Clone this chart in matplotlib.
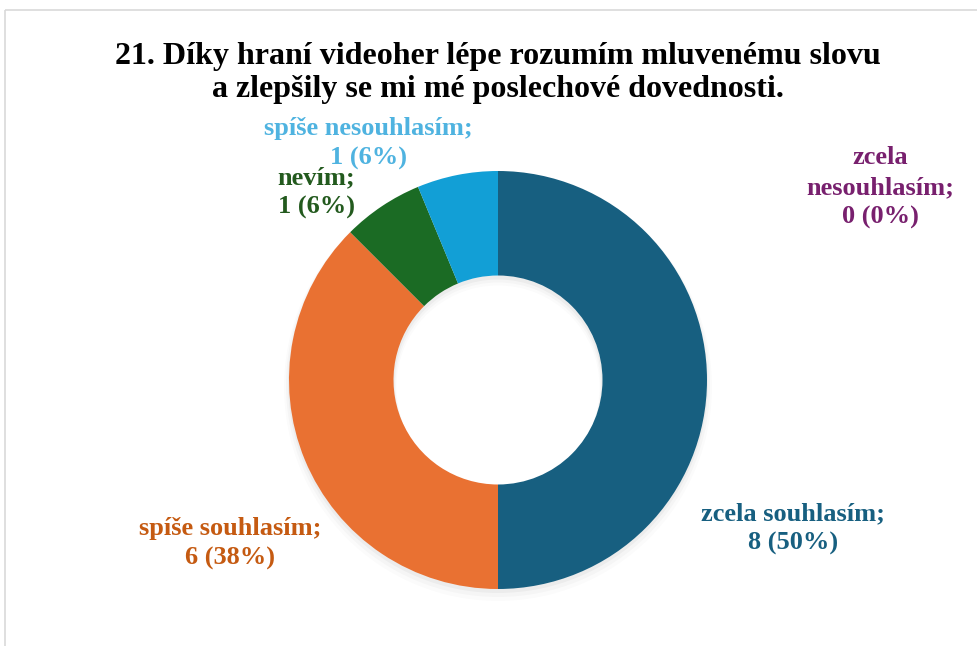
import matplotlib
matplotlib.use("Agg")
import matplotlib.pyplot as plt
from matplotlib.patches import Rectangle

plt.rcParams["font.family"] = ["Liberation Serif", "DejaVu Serif"]

TITLE = "21. Díky hraní videoher lépe rozumím mluvenému slovu\na zlepšily se mi mé poslechové dovednosti."
CATEGORIES = ["zcela souhlasím", "spíše souhlasím", "nevím", "spíše nesouhlasím", "zcela nesouhlasím"]
COUNTS = [8, 6, 1, 1, 0]
PERCENTS = [50, 38, 6, 6, 0]
WEDGE_COLORS = ["#175f80", "#e97132", "#1b6b24", "#129fd6", "#7a1f6e"]
TEXT_COLORS = ["#175f80", "#c55a11", "#235a1e", "#4fb3e0", "#78206e"]

# label layout (pixel coords of the 977x646 canvas): centre x, first line y, text lines
LABEL_POS = [
    (793, 514, ["{c};", "{n} ({p}%)"]),
    (230, 529, ["{c};", "{n} ({p}%)"]),
    (316, 178, ["{c};", "{n} ({p}%)"]),
    (368, 129, ["{c};", "{n} ({p}%)"]),
    (880, 158, ["zcela", "nesouhlasím;", "{n} ({p}%)"]),
]

W, H = 977, 646
fig = plt.figure(figsize=(W / 100, H / 100), dpi=100)
ax = fig.add_axes([0, 0, 1, 1])

cx, cy, r = 498, 380, 209

# soft shadow (y axis is flipped below, so +y is downwards)
for i, a in enumerate([0.035, 0.025, 0.015]):
    ax.pie([1], radius=r + 1 + i * 2, center=(cx, cy + 3 + i * 2), colors=["#000000"],
           wedgeprops=dict(width=r * 0.5 + 2 + i * 3, alpha=a, lw=0))

# flipped y axis: startangle -90 is the top, counterclock=True runs clockwise on screen
ax.pie(COUNTS, radius=r, center=(cx, cy), colors=WEDGE_COLORS, startangle=-90,
       counterclock=True, wedgeprops=dict(width=r * 0.5, lw=0))

ax.set_xlim(0, W)
ax.set_ylim(H, 0)
ax.set_aspect("equal")
ax.axis("off")

# chart frame (only left/top visible in the crop)
ax.add_patch(Rectangle((5, 10), W + 20, H + 20, fill=False, ec="#d9d9d9", lw=1.2))

ax.text(cx, 73, TITLE, ha="center", va="center", fontsize=23, fontweight="bold",
        color="black", linespacing=1.18)

for (x, y, lines), c, n, p, col in zip(LABEL_POS, CATEGORIES, COUNTS, PERCENTS, TEXT_COLORS):
    for k, line in enumerate(lines):
        ax.text(x, y + k * 29.5, line.format(c=c, n=n, p=p), ha="center", va="center",
                fontsize=19, fontweight="bold", color=col)

fig.savefig("out.png", dpi=100)
